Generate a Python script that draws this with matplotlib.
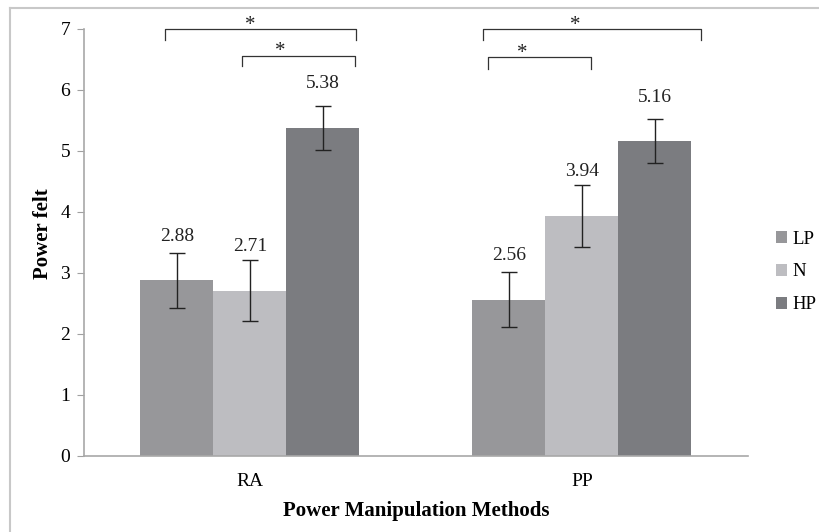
import numpy as np
import matplotlib.pyplot as plt
from matplotlib.lines import Line2D

# data
methods = ["RA", "PP"]
conditions = ["LP", "N", "HP"]
lp_vals = [2.88, 2.56]
n_vals = [2.71, 3.94]
hp_vals = [5.38, 5.16]
lp_err = [0.45, 0.45]
n_err = [0.50, 0.51]
hp_err = [0.36, 0.36]
colors = ["#97979a", "#bdbdc1", "#7b7c80"]

plt.rcParams['font.family'] = ['Liberation Serif', 'DejaVu Serif']

fig = plt.figure(figsize=(8.19, 5.32), dpi=100)
ax = fig.add_axes([0.1026, 0.1429, 0.8104, 0.8026])

x = np.arange(len(methods))
w = 0.22
series = [(lp_vals, lp_err), (n_vals, n_err), (hp_vals, hp_err)]
for i, (vals, errs) in enumerate(series):
    pos = x + (i - 1) * w
    ax.bar(pos, vals, w, color=colors[i], label=conditions[i], zorder=2)
    ax.errorbar(pos, vals, yerr=errs, fmt='none', ecolor='#222222',
                elinewidth=1.0, capsize=6, capthick=1.0, zorder=3)
    for p, v in zip(pos, vals):
        ax.text(p, v + 0.72, f"{v:.2f}", ha='center', va='center',
                fontsize=14, color='#222222')

ax.set_xlim(-0.5, 1.5)
ax.set_ylim(0, 7)
ax.set_yticks(range(0, 8))
ax.set_xticks(x)
ax.set_xticklabels(methods)
ax.tick_params(axis='y', length=5, color='#a0a0a0', labelsize=14, pad=5)
ax.tick_params(axis='x', length=0, labelsize=14, pad=12)
for s in ['top', 'right']:
    ax.spines[s].set_visible(False)
for s in ['left', 'bottom']:
    ax.spines[s].set_color('#a8a8a8')
    ax.spines[s].set_linewidth(1.2)

ax.set_ylabel("Power felt", fontsize=15, fontweight='bold')
ax.set_xlabel("Power Manipulation Methods", fontsize=15, fontweight='bold', labelpad=8)
ax.yaxis.set_label_coords(-0.047, 0.52)

# significance brackets
def bracket(x0, x1, y, drop, sx):
    ax.plot([x0, x0, x1, x1], [y - drop, y, y, y - drop], color='#333333',
            lw=0.9, clip_on=False)
    ax.text(sx, y - 0.01, "*", ha='center', va='baseline', fontsize=15,
            color='#222222', clip_on=False)

bracket(-0.256, 0.32, 7.0, 0.18, 0.0)
bracket(-0.024, 0.316, 6.56, 0.17, 0.09)
bracket(0.702, 1.358, 7.0, 0.18, 0.98)
bracket(0.717, 1.027, 6.54, 0.2, 0.82)

ax.legend(loc='center left', bbox_to_anchor=(1.042, 0.431), frameon=False,
          fontsize=13.5, handlelength=0.6, handleheight=0.6,
          labelspacing=0.85, handletextpad=0.3, borderaxespad=0, borderpad=0)

# outer frame (left and top only visible)
fig.add_artist(Line2D([10/819, 10/819], [0, 1 - 8/532], color='#c8c8c8', lw=1.5))
fig.add_artist(Line2D([10/819, 1], [1 - 8/532, 1 - 8/532], color='#c8c8c8', lw=1.5))

fig.savefig("out.png", dpi=100)
